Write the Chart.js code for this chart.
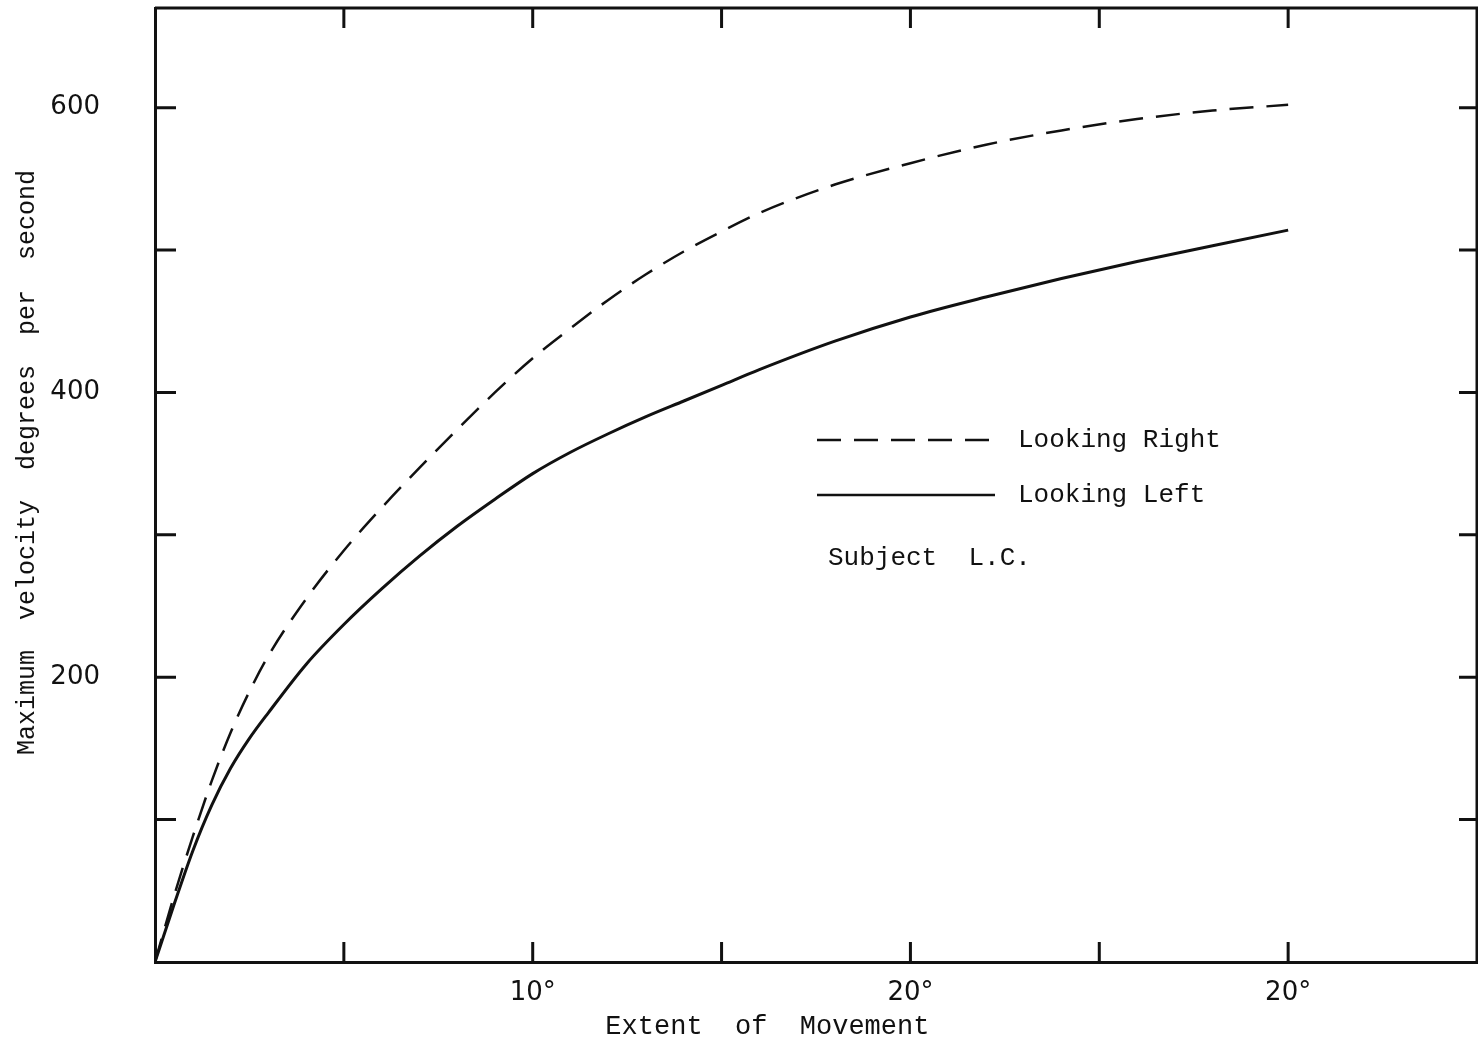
<!DOCTYPE html>
<html>
<head>
<meta charset="utf-8">
<script src="https://cdn.jsdelivr.net/npm/chart.js@4/dist/chart.umd.min.js"></script>
<style>
  html, body { margin: 0; padding: 0; background: #fff; }
  #wrap { width: 1478px; height: 1045px; }
</style>
</head>
<body>
<div id="wrap"><canvas id="chart"></canvas></div>
<script>
// extent of movement (deg) and max velocity (deg/s)
const extent = [0, 0.5, 1, 1.5, 2, 2.5, 3, 4, 5, 6, 7, 8, 9, 10, 11, 12, 13, 14, 15, 16, 18, 20, 22, 24, 26, 28, 30];
const lookingRight = [0, 46, 88, 127, 161, 190, 215, 255, 289, 319, 347, 374, 400, 424, 445, 465, 483, 499, 513, 526, 546, 561, 574, 584, 592, 598, 602];
const lookingLeft = [0, 40, 78, 110, 136, 157, 175, 209, 237, 262, 285, 306, 325, 343, 358, 371, 383, 394, 405, 416, 436, 453, 467, 480, 492, 503, 514];

const xTickValues = [10, 20, 30];
const xTickLabels = ['10°', '20°', '20°'];
const yTickValues = [200, 400, 600];
const yTickLabels = ['200', '400', '600'];

const seriesNames = ['Looking Right', 'Looking Left'];
const note = 'Subject  L.C.';

const ink = '#111';
const mono = "'Liberation Mono', 'DejaVu Sans Mono', monospace";

function pairs(xs, ys) {
  return xs.map((x, i) => ({ x, y: ys[i] }));
}

// frame, inward tick marks and the little legend box
const framePlugin = {
  id: 'frame',
  afterDatasetsDraw(chart) {
    const { ctx, chartArea: a, scales } = chart;
    ctx.save();
    ctx.strokeStyle = ink;
    ctx.lineWidth = 3;
    ctx.beginPath();
    ctx.moveTo(a.left, a.top);
    ctx.lineTo(a.right, a.top);
    ctx.lineTo(a.right, a.bottom);
    ctx.stroke();

    scales.y.ticks.forEach(t => {
      if (t.value <= 0 || t.value >= scales.y.max) return;
      const py = scales.y.getPixelForValue(t.value);
      ctx.beginPath();
      ctx.moveTo(a.left, py); ctx.lineTo(a.left + 21, py);
      ctx.moveTo(a.right - 18, py); ctx.lineTo(a.right, py);
      ctx.stroke();
    });
    scales.x.ticks.forEach(t => {
      if (t.value <= 0 || t.value >= scales.x.max) return;
      const px = scales.x.getPixelForValue(t.value);
      ctx.beginPath();
      ctx.moveTo(px, a.bottom); ctx.lineTo(px, a.bottom - 20);
      ctx.moveTo(px, a.top); ctx.lineTo(px, a.top + 20);
      ctx.stroke();
    });

    // legend
    const lx = 817, lx2 = 995;
    const rows = [440, 495];
    chart.data.datasets.forEach((ds, i) => {
      ctx.beginPath();
      ctx.lineWidth = 2.5;
      ctx.setLineDash(ds.borderDash || []);
      ctx.moveTo(lx, rows[i]); ctx.lineTo(lx2, rows[i]);
      ctx.stroke();
      ctx.setLineDash([]);
      ctx.fillStyle = ink;
      ctx.font = '26px ' + mono;
      ctx.textBaseline = 'middle';
      ctx.fillText(ds.label, 1018, rows[i]);
    });
    ctx.fillText(note, 828, 558);
    ctx.restore();
  }
};

new Chart(document.getElementById('chart'), {
  type: 'line',
  data: {
    datasets: [
      {
        label: seriesNames[0],
        data: pairs(extent, lookingRight),
        borderColor: ink,
        borderWidth: 2.5,
        borderDash: [24, 13],
        pointRadius: 0,
        cubicInterpolationMode: 'monotone',
        fill: false
      },
      {
        label: seriesNames[1],
        data: pairs(extent, lookingLeft),
        borderColor: ink,
        borderWidth: 3,
        pointRadius: 0,
        cubicInterpolationMode: 'monotone',
        fill: false
      }
    ]
  },
  options: {
    responsive: true,
    maintainAspectRatio: false,
    animation: false,
    layout: { padding: { top: 8, right: 1, left: 0, bottom: 0 } },
    plugins: {
      legend: { display: false },
      tooltip: { enabled: false }
    },
    scales: {
      x: {
        type: 'linear',
        min: 0,
        max: 35,
        afterFit: s => { s.height = 83; s.paddingLeft = 0; s.paddingRight = 0; },
        ticks: {
          stepSize: 5,
          color: ink,
          padding: 16,
          maxRotation: 0,
          autoSkip: false,
          font: { family: "'DejaVu Sans', sans-serif", size: 26 },
          callback: v => {
            const i = xTickValues.indexOf(v);
            return i >= 0 ? xTickLabels[i] : '';
          }
        },
        grid: { display: false, drawTicks: false },
        border: { display: true, color: ink, width: 3 },
        title: {
          display: true,
          // trailing spaces pull the centred title left, as in the original
          text: 'Extent  of  Movement      ',
          color: ink,
          font: { family: mono, size: 27 },
          padding: { top: 0, bottom: 2 }
        }
      },
      y: {
        type: 'linear',
        min: 0,
        max: 670,
        afterFit: s => { s.width = 155; s.paddingTop = 0; s.paddingBottom = 0; },
        ticks: {
          stepSize: 100,
          color: ink,
          padding: 55,
          autoSkip: false,
          font: { family: "'DejaVu Sans', sans-serif", size: 26 },
          callback: v => {
            const i = yTickValues.indexOf(v);
            return i >= 0 ? yTickLabels[i] : '';
          }
        },
        grid: { display: false, drawTicks: false },
        border: { display: true, color: ink, width: 3 },
        title: {
          display: true,
          text: '   Maximum  velocity  degrees  per  second',
          color: ink,
          font: { family: mono, size: 25 },
          padding: { top: 12, bottom: 0 }
        }
      }
    }
  },
  plugins: [framePlugin]
});
</script>
</body>
</html>
